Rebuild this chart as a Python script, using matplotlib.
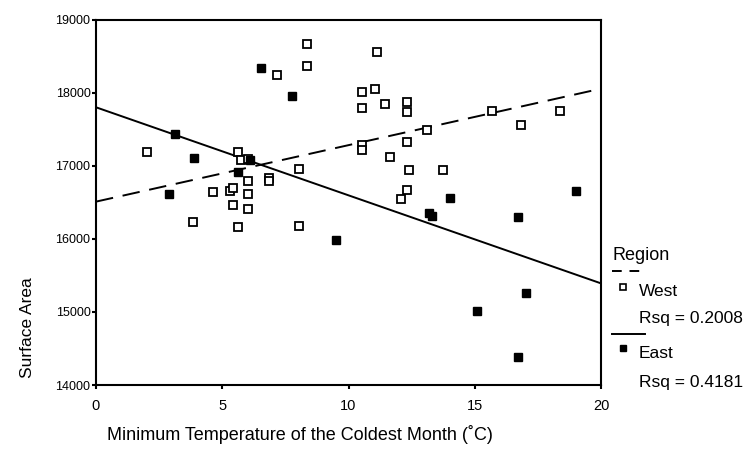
import numpy as np
import matplotlib
matplotlib.use("Agg")
import matplotlib.pyplot as plt
from matplotlib.lines import Line2D

plt.rcParams['font.family'] = ['Liberation Sans', 'DejaVu Sans']

# West region (open squares): min temperature of coldest month, surface area
west_temp = [8.34, 8.34, 7.16, 2.02, 5.61, 5.73, 6.02, 8.05, 6.84, 6.84,
             6.02, 4.65, 5.31, 5.41, 6.02, 5.41, 6.02, 3.85, 5.61, 8.05,
             11.14, 10.55, 11.05, 10.55, 11.45, 12.30, 12.30, 15.70, 18.39, 16.83,
             13.11, 10.55, 10.55, 12.30, 11.66, 12.41, 13.74, 12.30, 12.09]
west_area = [18671, 18370, 18242, 17196, 17196, 17086, 17096, 16963, 16840, 16795,
             16795, 16640, 16662, 16694, 16616, 16466, 16407, 16237, 16169, 16178,
             18566, 18014, 18051, 17799, 17849, 17881, 17740, 17758, 17753, 17562,
             17489, 17288, 17215, 17333, 17127, 16941, 16941, 16667, 16544]

# East region (filled squares)
east_temp = [6.52, 7.75, 3.13, 3.87, 6.11, 5.61, 2.90, 9.50,
             14.03, 19.01, 13.20, 13.31, 16.73, 17.03, 15.09, 16.73]
east_area = [18347, 17955, 17443, 17110, 17086, 16914, 16612, 15990,
             16562, 16658, 16352, 16319, 16297, 15260, 15010, 14388]

west_rsq = "Rsq = 0.2008"
east_rsq = "Rsq = 0.4181"

fig = plt.figure(figsize=(7.43, 4.63), dpi=100)
ax = fig.add_axes([96 / 743, 78 / 463, 505 / 743, 365 / 463])

# fitted lines
xs = np.array([0, 20])
bw = np.polyfit(west_temp, west_area, 1)
be = np.polyfit(east_temp, east_area, 1)
ax.plot(xs, np.polyval(bw, xs), color='black', lw=1.4, dashes=(9, 5))
ax.plot(xs, np.polyval(be, xs), color='black', lw=1.4)

ax.plot(west_temp, west_area, 's', ms=5.5, mfc='white', mec='black', mew=1.3, ls='none')
ax.plot(east_temp, east_area, 's', ms=5.8, mfc='black', mec='black', ls='none')

ax.set_xlim(0, 20)
ax.set_ylim(14000, 19000)
ax.set_xticks([0, 5, 10, 15, 20])
ax.set_yticks([14000, 15000, 16000, 17000, 18000, 19000])
ax.tick_params(axis='y', labelsize=9, length=3, width=1.5, pad=1)
ax.tick_params(axis='x', labelsize=10.5, length=3, width=1.5, pad=7)
for s in ax.spines.values():
    s.set_linewidth(1.5)

fig.text(28 / 743, 1 - 328 / 463, "Surface Area", rotation=90, fontsize=12.5,
         ha='center', va='center')
fig.text(300 / 743, 1 - 434 / 463, "Minimum Temperature of the Coldest Month (\u02daC)",
         fontsize=13, ha='center', va='center')

# legend drawn by hand to the right of the plot
def fx(px):
    return px / 743

def fy(py):
    return 1 - py / 463

fig.text(fx(613), fy(255), "Region", fontsize=13, ha='left', va='center')
fig.add_artist(Line2D([fx(612), fx(645)], [fy(271), fy(271)], color='black', lw=1.4, dashes=(5, 4)))
fig.add_artist(Line2D([fx(623)], [fy(287)], marker='s', ms=5, mfc='white', mec='black', mew=1.2))
fig.text(fx(639), fy(291), "West", fontsize=12.5, ha='left', va='center')
fig.text(fx(639), fy(318), west_rsq, fontsize=12.5, ha='left', va='center')
fig.add_artist(Line2D([fx(612), fx(645)], [fy(334), fy(334)], color='black', lw=1.4))
fig.add_artist(Line2D([fx(623)], [fy(348)], marker='s', ms=5, mfc='black', mec='black'))
fig.text(fx(639), fy(353), "East", fontsize=12.5, ha='left', va='center')
fig.text(fx(639), fy(382), east_rsq, fontsize=12.5, ha='left', va='center')

fig.savefig("out.png", dpi=100)
